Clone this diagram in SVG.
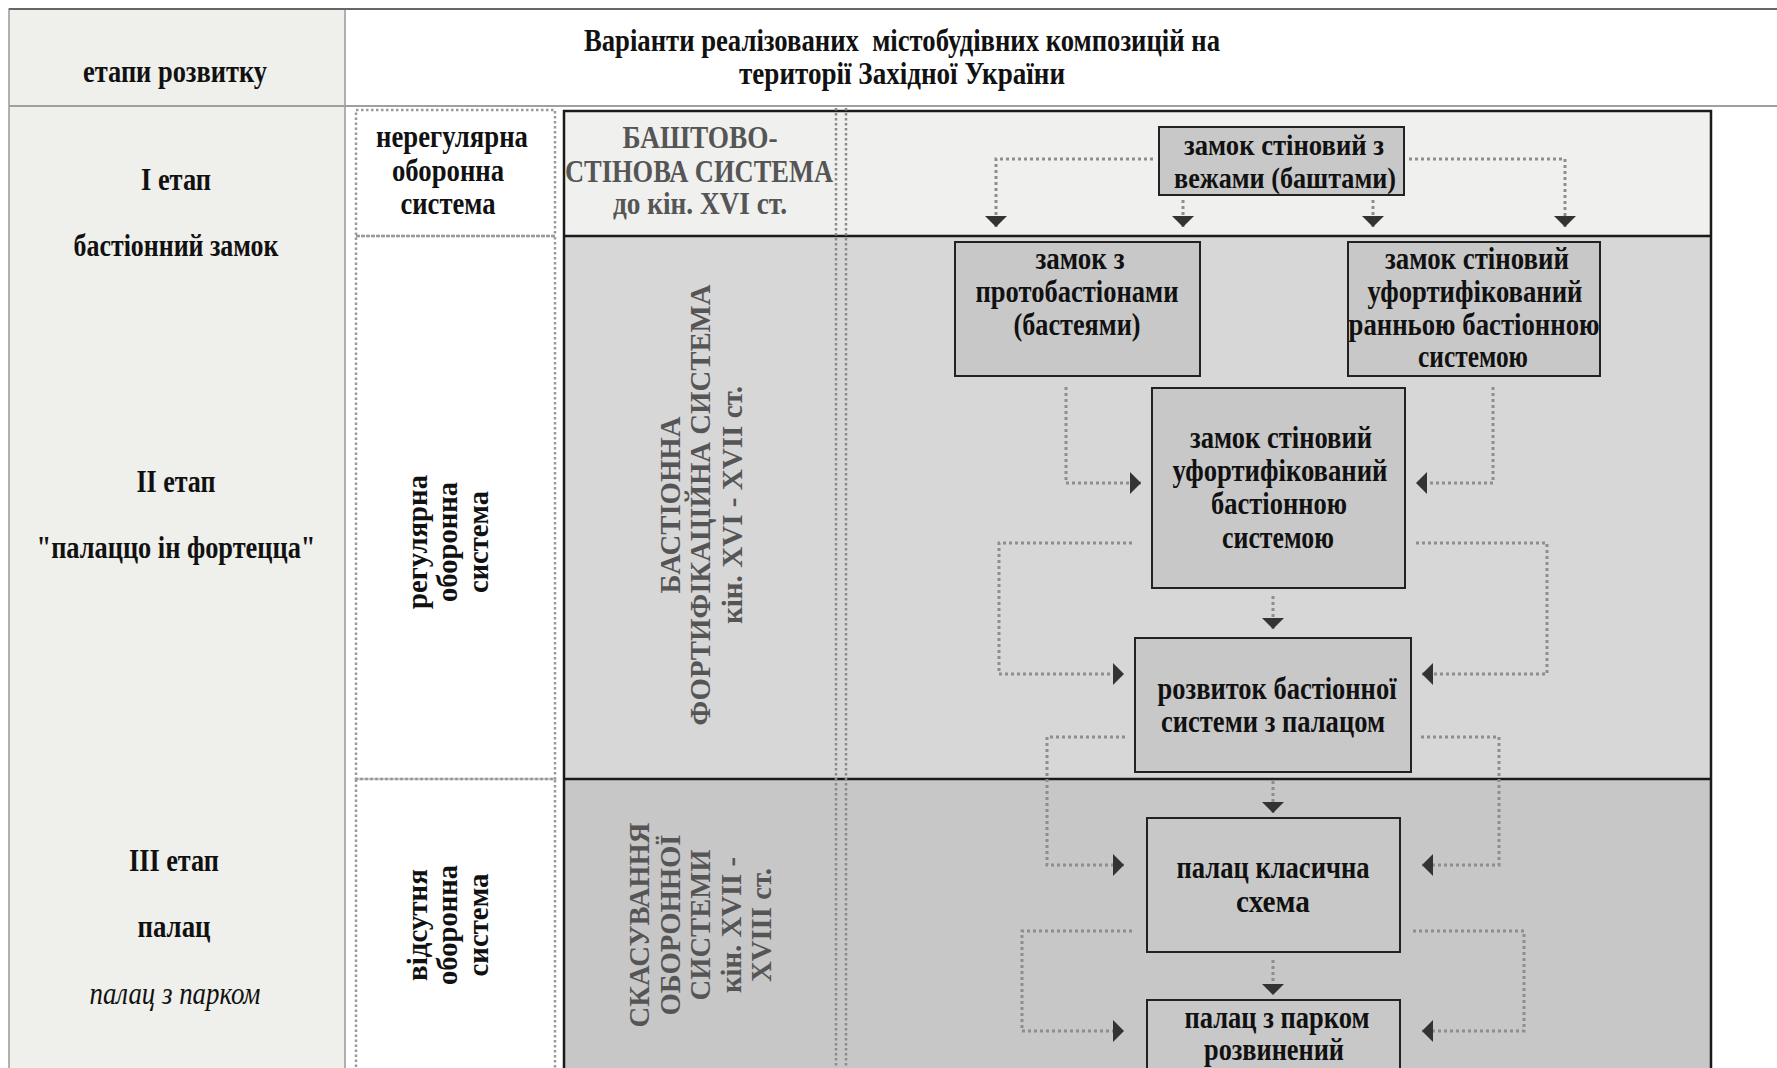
<svg xmlns="http://www.w3.org/2000/svg" width="1777" height="1068" viewBox="0 0 1777 1068">
<style>
.t{font-family:'Liberation Serif','Times New Roman',serif;font-weight:bold;font-size:31px;fill:#111;text-anchor:middle}
.r{font-size:29px}
.s{font-size:29px}
.g{fill:#555}
.it{font-style:italic;font-weight:normal}
.node rect{fill:#c8c8c8;stroke:#222;stroke-width:2}
.conn path{fill:none;stroke:#8e8e8e;stroke-width:3;stroke-dasharray:3 3}
.dotbox{fill:none;stroke:#9a9a9a;stroke-width:2.5;stroke-dasharray:2.5 2.5}
</style>
<defs>
<marker id="ah" viewBox="0 0 11 22" refX="11" refY="11" markerWidth="11" markerHeight="22" markerUnits="userSpaceOnUse" orient="auto">
<path d="M0,0 L11,11 L0,22 z" fill="#333"/>
</marker>
</defs>
<rect x="0" y="0" width="1777" height="1068" fill="#fff"/>
<!-- left column -->
<g id="left-column">
<rect x="9" y="9" width="336" height="1070" fill="#efefeb" stroke="#999" stroke-width="1.5"/>
<line x1="9" y1="9" x2="1777" y2="9" stroke="#666" stroke-width="2"/>
<line x1="9" y1="106" x2="1777" y2="106" stroke="#a0a0a0" stroke-width="2"/>
<text class="t" x="175" y="82" textLength="184" lengthAdjust="spacingAndGlyphs">етапи розвитку</text>
<text class="t" x="176" y="190" textLength="70" lengthAdjust="spacingAndGlyphs">I етап</text>
<text class="t" x="176" y="256" textLength="205" lengthAdjust="spacingAndGlyphs">бастіонний замок</text>
<text class="t" x="176" y="492" textLength="79" lengthAdjust="spacingAndGlyphs">II етап</text>
<text class="t" x="176" y="558" textLength="279" lengthAdjust="spacingAndGlyphs">"палаццо ін фортецца"</text>
<text class="t" x="174" y="871" textLength="90" lengthAdjust="spacingAndGlyphs">III етап</text>
<text class="t" x="174" y="937" textLength="73" lengthAdjust="spacingAndGlyphs">палац</text>
<text class="t it" x="175" y="1004" textLength="171" lengthAdjust="spacingAndGlyphs">палац з парком</text>
</g>
<g id="title">
<text class="t" x="902" y="51" textLength="636" lengthAdjust="spacingAndGlyphs" xml:space="preserve">Варіанти реалізованих  містобудівних композицій на</text>
<text class="t" x="902" y="84" textLength="326" lengthAdjust="spacingAndGlyphs">території Західної України</text>
</g>
<!-- defence type column -->
<g id="defence-column">
<rect class="dotbox" x="356" y="110" width="199" height="126"/>
<rect class="dotbox" x="356" y="236" width="199" height="543"/>
<rect class="dotbox" x="356" y="779" width="199" height="300"/>
<text class="t" x="452" y="147" textLength="152" lengthAdjust="spacingAndGlyphs">нерегулярна</text>
<text class="t" x="448" y="181" textLength="112" lengthAdjust="spacingAndGlyphs">оборонна</text>
<text class="t" x="448" y="214" textLength="95" lengthAdjust="spacingAndGlyphs">система</text>
<text class="t r" transform="translate(427,542) rotate(-90)" x="0" y="0" textLength="134" lengthAdjust="spacingAndGlyphs">регулярна</text>
<text class="t r" transform="translate(457,542) rotate(-90)" x="0" y="0" textLength="120" lengthAdjust="spacingAndGlyphs">оборонна</text>
<text class="t r" transform="translate(488,542) rotate(-90)" x="0" y="0" textLength="102" lengthAdjust="spacingAndGlyphs">система</text>
<text class="t r" transform="translate(427,925) rotate(-90)" x="0" y="0" textLength="112" lengthAdjust="spacingAndGlyphs">відсутня</text>
<text class="t r" transform="translate(457,925) rotate(-90)" x="0" y="0" textLength="120" lengthAdjust="spacingAndGlyphs">оборонна</text>
<text class="t r" transform="translate(488,925) rotate(-90)" x="0" y="0" textLength="103" lengthAdjust="spacingAndGlyphs">система</text>
</g>
<!-- main box -->
<g id="main-box">
<rect x="564" y="111" width="1147" height="125" fill="#f0f0ee"/>
<rect x="564" y="236" width="1147" height="543" fill="#d7d7d7"/>
<rect x="564" y="779" width="1147" height="300" fill="#c7c7c7"/>
<rect x="564" y="111" width="1147" height="968" fill="none" stroke="#1a1a1a" stroke-width="2.5"/>
<line x1="564" y1="236" x2="1711" y2="236" stroke="#1a1a1a" stroke-width="2.5"/>
<line x1="564" y1="779" x2="1711" y2="779" stroke="#1a1a1a" stroke-width="2.5"/>
<line x1="836" y1="108" x2="836" y2="1068" stroke="#8a8a8a" stroke-width="2.5" stroke-dasharray="2.5 2.5"/>
<line x1="846" y1="108" x2="846" y2="1068" stroke="#8a8a8a" stroke-width="2.5" stroke-dasharray="2.5 2.5"/>
</g>
<g id="system-labels">
<text class="t g" x="700" y="148" textLength="155" lengthAdjust="spacingAndGlyphs">БАШТОВО-</text>
<text class="t g" x="699" y="182" textLength="268" lengthAdjust="spacingAndGlyphs">СТІНОВА СИСТЕМА</text>
<text class="t g" x="700" y="214" textLength="174" lengthAdjust="spacingAndGlyphs">до кін. XVI ст.</text>
<text class="t r g" transform="translate(680,505) rotate(-90)" x="0" y="0" textLength="177" lengthAdjust="spacingAndGlyphs">БАСТІОННА</text>
<text class="t r g" transform="translate(710,505) rotate(-90)" x="0" y="0" textLength="441" lengthAdjust="spacingAndGlyphs">ФОРТИФІКАЦІЙНА СИСТЕМА</text>
<text class="t r g" transform="translate(742,505) rotate(-90)" x="0" y="0" textLength="238" lengthAdjust="spacingAndGlyphs">кін. XVI - XVII ст.</text>
<text class="t r g" transform="translate(649,925) rotate(-90)" x="0" y="0" textLength="205" lengthAdjust="spacingAndGlyphs">СКАСУВАННЯ</text>
<text class="t r g" transform="translate(680,925) rotate(-90)" x="0" y="0" textLength="181" lengthAdjust="spacingAndGlyphs">ОБОРОННОЇ</text>
<text class="t r g" transform="translate(710,925) rotate(-90)" x="0" y="0" textLength="151" lengthAdjust="spacingAndGlyphs">СИСТЕМИ</text>
<text class="t r g" transform="translate(741,925) rotate(-90)" x="0" y="0" textLength="136" lengthAdjust="spacingAndGlyphs">кін. XVII -</text>
<text class="t r g" transform="translate(771,925) rotate(-90)" x="0" y="0" textLength="114" lengthAdjust="spacingAndGlyphs">XVIII ст.</text>
</g>
<!-- connectors -->
<g id="connectors" class="conn">
<path d="M1153,159 H996 V227" marker-end="url(#ah)"/>
<path d="M1183,200 V227" marker-end="url(#ah)"/>
<path d="M1373,200 V227" marker-end="url(#ah)"/>
<path d="M1409,159 H1565 V227" marker-end="url(#ah)"/>
<path d="M1066,387 V483 H1141" marker-end="url(#ah)"/>
<path d="M1493,387 V483 H1416" marker-end="url(#ah)"/>
<path d="M1273,596 V629" marker-end="url(#ah)"/>
<path d="M1132,543 H999 V674 H1124" marker-end="url(#ah)"/>
<path d="M1416,543 H1547 V674 H1422" marker-end="url(#ah)"/>
<path d="M1273,781 V813" marker-end="url(#ah)"/>
<path d="M1125,737 H1047 V865 H1124" marker-end="url(#ah)"/>
<path d="M1421,737 H1499 V865 H1422" marker-end="url(#ah)"/>
<path d="M1273,960 V995" marker-end="url(#ah)"/>
<path d="M1132,931 H1022 V1031 H1124" marker-end="url(#ah)"/>
<path d="M1413,931 H1524 V1031 H1422" marker-end="url(#ah)"/>
</g>
<!-- nodes -->
<g id="n1" class="node">
<rect x="1159" y="127" width="245" height="68"/>
<text class="t s" x="1284" y="155" textLength="200" lengthAdjust="spacingAndGlyphs">замок стіновий з</text>
<text class="t s" x="1285" y="188" textLength="222" lengthAdjust="spacingAndGlyphs">вежами (баштами)</text>
</g>
<g id="n2" class="node">
<rect x="955" y="242" width="245" height="134"/>
<text class="t" x="1080" y="269" textLength="89" lengthAdjust="spacingAndGlyphs">замок з</text>
<text class="t" x="1077" y="302" textLength="203" lengthAdjust="spacingAndGlyphs">протобастіонами</text>
<text class="t" x="1077" y="335" textLength="127" lengthAdjust="spacingAndGlyphs">(бастеями)</text>
</g>
<g id="n3" class="node">
<rect x="1348" y="242" width="252" height="134"/>
<text class="t" x="1477" y="269" textLength="184" lengthAdjust="spacingAndGlyphs">замок стіновий</text>
<text class="t" x="1475" y="302" textLength="215" lengthAdjust="spacingAndGlyphs">уфортифікований</text>
<text class="t" x="1474" y="335" textLength="251" lengthAdjust="spacingAndGlyphs">ранньою бастіонною</text>
<text class="t" x="1473" y="367" textLength="110" lengthAdjust="spacingAndGlyphs">системою</text>
</g>
<g id="n4" class="node">
<rect x="1152" y="388" width="253" height="200"/>
<text class="t" x="1281" y="448" textLength="182" lengthAdjust="spacingAndGlyphs">замок стіновий</text>
<text class="t" x="1280" y="481" textLength="215" lengthAdjust="spacingAndGlyphs">уфортифікований</text>
<text class="t" x="1279" y="514" textLength="136" lengthAdjust="spacingAndGlyphs">бастіонною</text>
<text class="t" x="1278" y="548" textLength="112" lengthAdjust="spacingAndGlyphs">системою</text>
</g>
<g id="n5" class="node">
<rect x="1135" y="638" width="276" height="134"/>
<text class="t" x="1277" y="699" textLength="239" lengthAdjust="spacingAndGlyphs">розвиток бастіонної</text>
<text class="t" x="1273" y="732" textLength="224" lengthAdjust="spacingAndGlyphs">системи з палацом</text>
</g>
<g id="n6" class="node">
<rect x="1147" y="818" width="253" height="134"/>
<text class="t" x="1273" y="878" textLength="193" lengthAdjust="spacingAndGlyphs">палац класична</text>
<text class="t" x="1273" y="912" textLength="74" lengthAdjust="spacingAndGlyphs">схема</text>
</g>
<g id="n7" class="node">
<rect x="1147" y="1000" width="253" height="100"/>
<text class="t" x="1277" y="1028" textLength="185" lengthAdjust="spacingAndGlyphs">палац з парком</text>
<text class="t" x="1274" y="1060" textLength="140" lengthAdjust="spacingAndGlyphs">розвинений</text>
</g>
</svg>
